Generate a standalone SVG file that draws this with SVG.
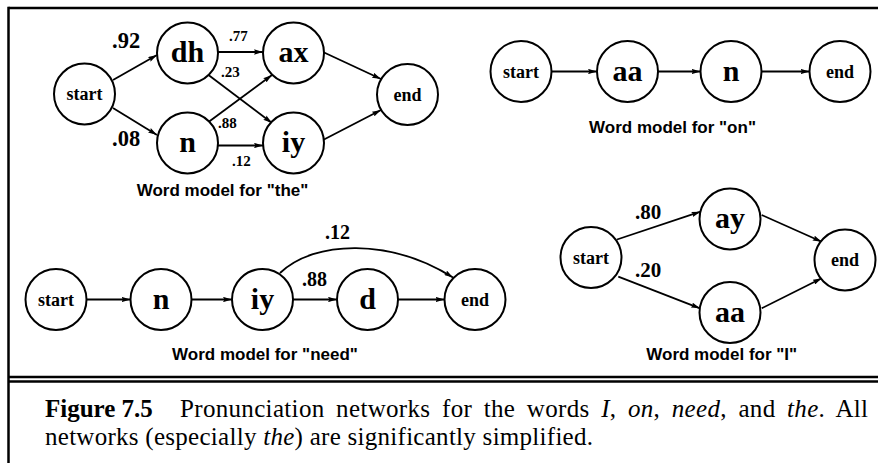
<svg xmlns="http://www.w3.org/2000/svg" width="878" height="463" viewBox="0 0 878 463">
<style>
.nd{fill:#fff;stroke:#000;stroke-width:2}
.e{fill:none;stroke:#000;stroke-width:1.8;marker-end:url(#ah)}
.sm{font-family:"Liberation Serif",serif;font-weight:bold;font-size:18px;text-anchor:middle}
.bg{font-family:"Liberation Serif",serif;font-weight:bold;font-size:30px;text-anchor:middle}
.lb{font-family:"Liberation Serif",serif;font-weight:bold}
.tt{font-family:"Liberation Sans",Arial,sans-serif;font-weight:bold;font-size:17px;text-anchor:middle}
.cap{font-family:"Liberation Serif",serif;font-size:25px}
.fr{stroke:#000;stroke-width:2.5;fill:none}
</style>
<defs>
<marker id="ah" viewBox="0 0 10 6" refX="10" refY="3" markerWidth="9" markerHeight="5.5" markerUnits="userSpaceOnUse" orient="auto">
<path d="M0,0 L10,3 L0,6 L1.5,3 z" fill="#000"/>
</marker>
</defs>
<rect width="878" height="463" fill="#fff"/>
<g id="frame">
<line class="fr" x1="8.5" y1="8" x2="878" y2="8"/>
<line class="fr" x1="8.5" y1="6.8" x2="8.5" y2="463"/>
<line class="fr" x1="8.5" y1="377" x2="878" y2="377" stroke-width="2"/>
<line class="fr" x1="8.5" y1="381.5" x2="878" y2="381.5" stroke-width="2"/>
</g>
<g id="connectors">
<!-- the -->
<line class="e" x1="113" y1="80" x2="157" y2="55"/>
<line class="e" x1="113" y1="108" x2="157" y2="135"/>
<line class="e" x1="218" y1="52" x2="263" y2="52"/>
<line class="e" x1="208.5" y1="75" x2="272" y2="123"/>
<line class="e" x1="208.5" y1="122" x2="272" y2="75"/>
<line class="e" x1="218" y1="145.5" x2="263" y2="145.5"/>
<line class="e" x1="323" y1="52" x2="381" y2="79"/>
<line class="e" x1="323" y1="140" x2="381" y2="110"/>
<!-- on -->
<line class="e" x1="551.5" y1="71.5" x2="597" y2="71.5"/>
<line class="e" x1="658" y1="71.5" x2="700.5" y2="71.5"/>
<line class="e" x1="761.5" y1="71.5" x2="809.5" y2="71.5"/>
<!-- need -->
<line class="e" x1="86.5" y1="299.5" x2="130.5" y2="299.5"/>
<line class="e" x1="191.5" y1="299.5" x2="232" y2="299.5"/>
<line class="e" x1="293" y1="299.5" x2="337" y2="299.5"/>
<line class="e" x1="398" y1="299.5" x2="444.5" y2="299.5"/>
<path class="e" d="M280,273 C315,240 390,238 453,277.5"/>
<!-- I -->
<line class="e" x1="617" y1="239.5" x2="700.5" y2="211.7"/>
<line class="e" x1="618.3" y1="276.7" x2="700" y2="308.3"/>
<line class="e" x1="761.7" y1="215" x2="821.7" y2="241.7"/>
<line class="e" x1="761.7" y1="308.3" x2="821.7" y2="278.3"/>
</g>
<g id="the-start"><circle class="nd" cx="84.5" cy="94" r="30.5"/><text class="sm" x="84.5" y="100">start</text></g>
<g id="the-dh"><circle class="nd" cx="187.5" cy="53" r="30.5"/><text class="bg" x="187.5" y="62">dh</text></g>
<g id="the-n"><circle class="nd" cx="187.5" cy="143" r="30.5"/><text class="bg" x="187.5" y="152">n</text></g>
<g id="the-ax"><circle class="nd" cx="293.5" cy="53" r="30.5"/><text class="bg" x="293.5" y="62">ax</text></g>
<g id="the-iy"><circle class="nd" cx="293.5" cy="143" r="30.5"/><text class="bg" x="293.5" y="152">iy</text></g>
<g id="the-end"><circle class="nd" cx="407.5" cy="94.5" r="30.5"/><text class="sm" x="407.5" y="100.5">end</text></g>
<g id="the-labels">
<text class="lb" x="112" y="48" font-size="22.5">.92</text>
<text class="lb" x="112" y="146" font-size="22.5">.08</text>
<text class="lb" x="229" y="41" font-size="15">.77</text>
<text class="lb" x="221" y="77" font-size="15">.23</text>
<text class="lb" x="218" y="128" font-size="15">.88</text>
<text class="lb" x="232" y="166" font-size="15">.12</text>
<text class="tt" x="222.5" y="196">Word model for "the"</text>
</g>
<g id="on-start"><circle class="nd" cx="521" cy="71.5" r="30.5"/><text class="sm" x="521" y="77.5">start</text></g>
<g id="on-aa"><circle class="nd" cx="627.5" cy="71.5" r="30.5"/><text class="bg" x="627.5" y="80.5">aa</text></g>
<g id="on-n"><circle class="nd" cx="731" cy="71.5" r="30.5"/><text class="bg" x="731" y="80.5">n</text></g>
<g id="on-end"><circle class="nd" cx="840" cy="71.5" r="30.5"/><text class="sm" x="840" y="77.5">end</text></g>
<text class="tt" x="672.5" y="133">Word model for "on"</text>
<g id="need-start"><circle class="nd" cx="56" cy="299.5" r="30.5"/><text class="sm" x="56" y="305.5">start</text></g>
<g id="need-n"><circle class="nd" cx="161" cy="299.5" r="30.5"/><text class="bg" x="161" y="308.5">n</text></g>
<g id="need-iy"><circle class="nd" cx="262.5" cy="299.5" r="30.5"/><text class="bg" x="262.5" y="308.5">iy</text></g>
<g id="need-d"><circle class="nd" cx="367.5" cy="299.5" r="30.5"/><text class="bg" x="367.5" y="308.5">d</text></g>
<g id="need-end"><circle class="nd" cx="475" cy="299.5" r="30.5"/><text class="sm" x="475" y="305.5">end</text></g>
<g id="need-labels">
<text class="lb" x="302" y="286" font-size="20">.88</text>
<text class="lb" x="325" y="239" font-size="20">.12</text>
<text class="tt" x="265" y="360">Word model for "need"</text>
</g>
<g id="I-start"><circle class="nd" cx="591" cy="257.5" r="30.5"/><text class="sm" x="591" y="263.5">start</text></g>
<g id="I-ay"><circle class="nd" cx="730" cy="219" r="30.5"/><text class="bg" x="730" y="228">ay</text></g>
<g id="I-aa"><circle class="nd" cx="730" cy="312.5" r="30.5"/><text class="bg" x="730" y="321.5">aa</text></g>
<g id="I-end"><circle class="nd" cx="845" cy="260" r="30.5"/><text class="sm" x="845" y="266">end</text></g>
<g id="I-labels">
<text class="lb" x="635" y="219" font-size="21">.80</text>
<text class="lb" x="635" y="276.5" font-size="21">.20</text>
<text class="tt" x="721.7" y="360">Word model for "I"</text>
</g>
<g id="caption">
<text class="cap" x="45" y="417" font-weight="bold" font-size="24">Figure 7.5</text>
<text class="cap" x="180" y="417" word-spacing="5" textLength="688" lengthAdjust="spacing">Pronunciation networks for the words <tspan font-style="italic">I</tspan>, <tspan font-style="italic">on</tspan>, <tspan font-style="italic">need</tspan>, and <tspan font-style="italic">the</tspan>.  All</text>
<text class="cap" x="45" y="445" textLength="548" lengthAdjust="spacing">networks (especially <tspan font-style="italic">the</tspan>) are significantly simplified.</text>
</g>
</svg>
